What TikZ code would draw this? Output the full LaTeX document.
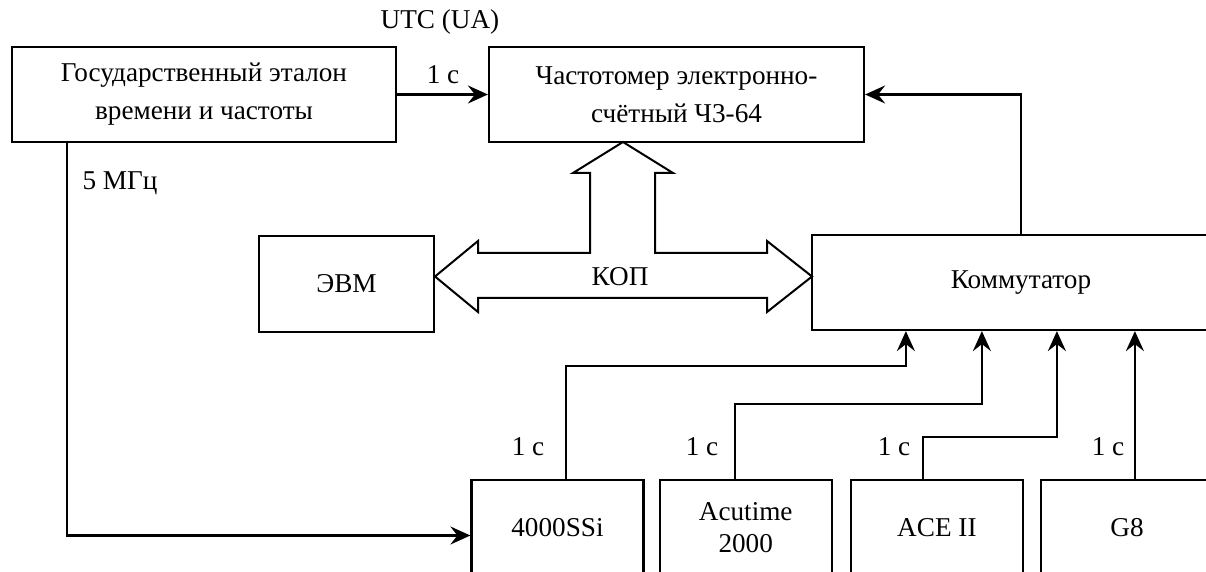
\documentclass[tikz,border=0pt]{standalone}
\usepackage{fontspec}
\setmainfont{Liberation Serif}
\usetikzlibrary{arrows.meta, positioning}

\begin{document}
\begin{tikzpicture}[x=0.5pt, y=-0.5pt,
	font=\fontsize{13.6}{19}\selectfont,
	block/.style={draw, line width=1.1pt, minimum height=47.5pt, align=center, inner sep=2pt},
	unit/.style={block, minimum width=86pt},
	link/.style={line width=1.1pt, -{Stealth[length=10pt, width=9pt, inset=3.5pt]}}]

	\useasboundingbox (0,0) rectangle (1206,572);

	\node[block, minimum width=192pt] (etalon) at (204,94.5) {Государственный эталон\\времени и частоты};
	\node[block, minimum width=187.5pt] (freq) at (676.5,94.5) {Частотомер электронно-\\счётный Ч3-64};
	\node[block, minimum width=87.5pt, minimum height=48pt] (evm) at (346.5,284) {ЭВМ};
	\node[block, minimum width=209pt] (komm) at (1021,282.5) {Коммутатор};

	\node[unit] (ssi) at (557.5,527.5) {4000SSi};
	\node[unit, right=7pt of ssi] (acu) {Acutime\\[-3pt]2000};
	\node[unit, right=8.5pt of acu] (ace) {ACE II};
	\node[unit, right=8pt of ace] (geight) {G8};

	% labels
	\node (utc) at (440,22) {UTC (UA)};
	\node (sec) at (443,75) {1 с};
	\node (mhz) at (120,183) {5 МГц};
	\node (kop) at (620,277) {КОП};
	\foreach \x/\n in {528/a, 702/b, 894/c, 1108/d}
		\node (sec\n) at (\x,447) {1 с};

	% bus
	\draw[line width=1pt, line join=miter]
	(435,276.5) -- (478,241) -- (478,253) -- (590,253) -- (590,173) -- (573,173)
	-- (623,142) -- (673,173) -- (655,173) -- (655,253) -- (767,253) -- (767,241)
	-- (812,276.5) -- (767,312) -- (767,298) -- (478,298) -- (478,312) -- cycle;

	% inputs of the commutator
	\coordinate (in1) at ([xshift=47.5pt]komm.south west);
	\coordinate (in2) at ([xshift=85.5pt]komm.south west);
	\coordinate (in3) at ([xshift=123pt]komm.south west);
	\coordinate (in4) at ([xshift=162pt]komm.south west);

	\draw[link] (etalon) -- (freq);
	\draw[link] (komm.north) |- (freq.east);
	\draw[link] ([xshift=28pt]etalon.south west) |- ([yshift=-4pt]ssi.west);
	\draw[link] ([xshift=4.25pt]ssi.north) -- ++(0pt,56.5pt) -| (in1);
	\draw[link] ([xshift=-5.5pt]acu.north) -- ++(0pt,37.5pt) -| (in2);
	\draw[link] ([xshift=-7pt]ace.north) -- ++(0pt,21pt) -| (in3);
	\draw[link] (in4 |- geight.north) -- (in4);

\end{tikzpicture}
\end{document}
